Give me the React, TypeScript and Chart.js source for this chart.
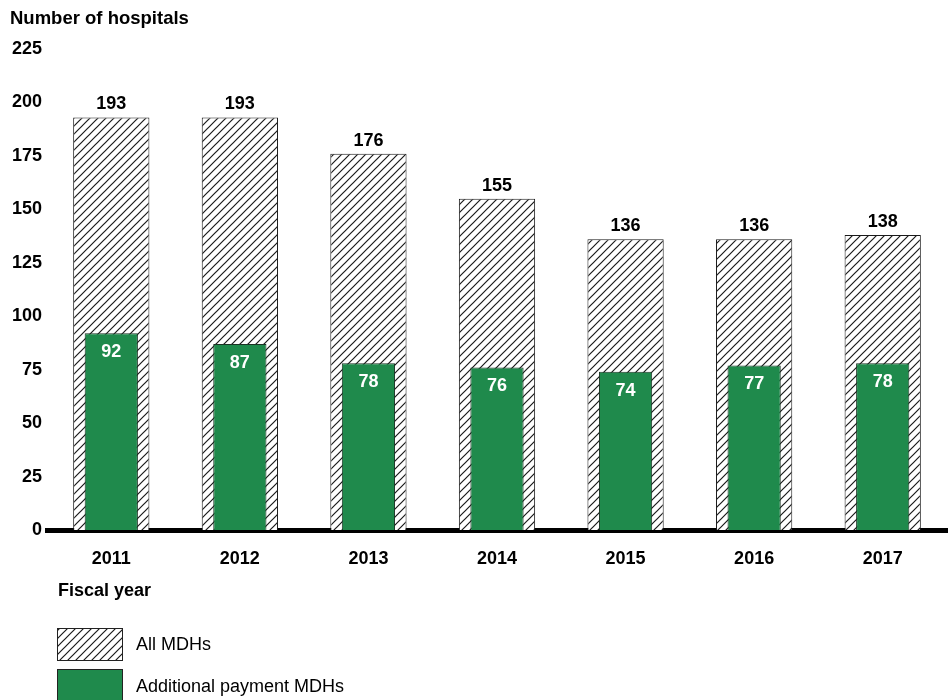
import React, { useEffect, useRef } from 'react';
import { Chart, registerables } from 'chart.js';

Chart.register(...registerables);

const FONT = '"Liberation Sans", Arial, Helvetica, sans-serif';

const years = ['2011', '2012', '2013', '2014', '2015', '2016', '2017'];
const allMDHs = [193, 193, 176, 155, 136, 136, 138];
const additionalPaymentMDHs = [92, 87, 78, 76, 74, 77, 78];
const yMin = 0;
const yMax = 225;
const yStep = 25;

const GREEN = '#1f8a4c';

function makeHatch(ctx: CanvasRenderingContext2D): CanvasPattern | string {
  const s = 8;
  const c = document.createElement('canvas');
  c.width = s;
  c.height = s;
  const g = c.getContext('2d');
  if (!g) return '#fff';
  g.fillStyle = '#ffffff';
  g.fillRect(0, 0, s, s);
  g.strokeStyle = '#1a1a1a';
  g.lineWidth = 1.2;
  g.beginPath();
  g.moveTo(-1, 1);
  g.lineTo(1, -1);
  g.moveTo(0, s);
  g.lineTo(s, 0);
  g.moveTo(s - 1, s + 1);
  g.lineTo(s + 1, s - 1);
  g.stroke();
  return ctx.createPattern(c, 'repeat') || '#fff';
}

export default function App() {
  const ref = useRef<HTMLCanvasElement | null>(null);

  useEffect(() => {
    const canvas = ref.current;
    if (!canvas) return;
    const ctx = canvas.getContext('2d');
    if (!ctx) return;
    const hatch = makeHatch(ctx);

    const valueLabels = {
      id: 'valueLabels',
      afterDatasetsDraw(chart: any) {
        const c = chart.ctx;
        c.save();
        c.font = `bold 18px ${FONT}`;
        c.textAlign = 'center';
        c.textBaseline = 'middle';
        chart.data.datasets.forEach((ds: any, i: number) => {
          const meta = chart.getDatasetMeta(i);
          meta.data.forEach((bar: any, j: number) => {
            const v = ds.data[j];
            if (ds.label === 'All MDHs') {
              c.fillStyle = '#000';
              c.fillText(String(v), bar.x, bar.y - 13);
            } else {
              c.fillStyle = '#fff';
              c.fillText(String(v), bar.x, bar.y + 19);
            }
          });
        });
        c.restore();
      },
    };

    const decor = {
      id: 'decor',
      afterDraw(chart: any) {
        const c = chart.ctx;
        c.save();
        c.fillStyle = '#000';
        c.textAlign = 'left';
        c.textBaseline = 'middle';
        c.font = `bold 18.5px ${FONT}`;
        c.fillText('Number of hospitals', 10, 19);
        c.font = `bold 18px ${FONT}`;
        c.fillText('Fiscal year', 58, 591);

        // legend
        c.lineWidth = 1;
        c.strokeStyle = '#222';
        c.fillStyle = hatch as any;
        c.fillRect(57.5, 628.5, 65, 32);
        c.strokeRect(57.5, 628.5, 65, 32);
        c.fillStyle = GREEN;
        c.fillRect(57.5, 669.5, 65, 32);
        c.strokeRect(57.5, 669.5, 65, 32);

        c.fillStyle = '#000';
        c.font = `18px ${FONT}`;
        c.fillText('All MDHs', 136, 645);
        c.fillText('Additional payment MDHs', 136, 687);
        c.restore();
      },
    };

    const chart = new Chart(canvas, {
      type: 'bar',
      data: {
        labels: years,
        datasets: [
          {
            label: 'Additional payment MDHs',
            data: additionalPaymentMDHs,
            backgroundColor: GREEN,
            borderColor: '#1b3324',
            borderWidth: 1,
            barPercentage: 0.414,
            categoryPercentage: 1,
            grouped: false,
            order: 0,
          } as any,
          {
            label: 'All MDHs',
            data: allMDHs,
            backgroundColor: hatch as any,
            borderColor: '#1a1a1a',
            borderWidth: 1,
            barPercentage: 0.593,
            categoryPercentage: 1,
            grouped: false,
            order: 1,
          } as any,
        ],
      },
      options: {
        responsive: false,
        animation: false,
        layout: { padding: { left: 12, right: 4, top: 49, bottom: 130 } },
        plugins: {
          legend: { display: false },
          tooltip: { enabled: false },
          title: { display: false },
        },
        scales: {
          x: {
            grid: { display: false, drawTicks: false },
            border: { display: true, width: 5, color: '#000' },
            ticks: {
              padding: 18,
              color: '#000',
              font: { family: FONT, size: 18, weight: 'bold' },
            },
            afterFit: (s: any) => {
              s.height = 40;
            },
          },
          y: {
            min: yMin,
            max: yMax,
            grid: { display: false, drawTicks: false },
            border: { display: false },
            ticks: {
              stepSize: yStep,
              padding: 5,
              color: '#000',
              font: { family: FONT, size: 18, weight: 'bold' },
            },
            afterFit: (s: any) => {
              s.width = 35;
            },
          },
        },
      } as any,
      plugins: [valueLabels, decor],
    });

    return () => {
      chart.destroy();
    };
  }, []);

  return (
    <div style={{ position: 'absolute', left: 0, top: 0, width: 951, height: 700, background: '#fff' }}>
      <canvas ref={ref} width={951} height={700} style={{ display: 'block', width: 951, height: 700 }} />
    </div>
  );
}
